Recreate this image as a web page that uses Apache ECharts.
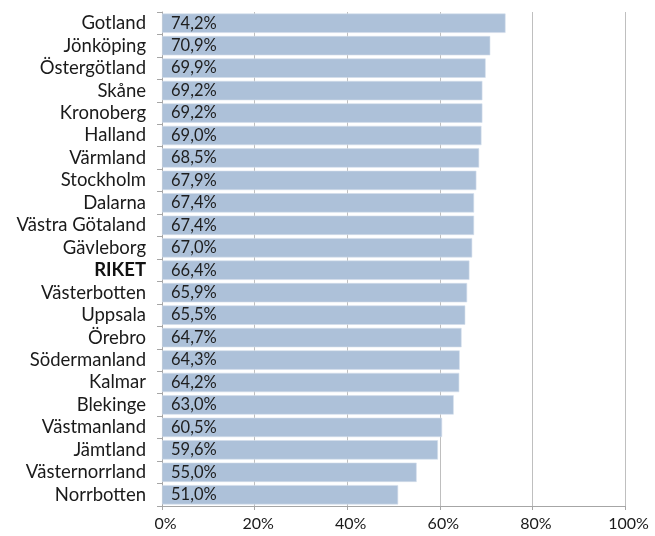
<!DOCTYPE html>
<html>
<head>
<meta charset="utf-8">
<script src="https://cdn.jsdelivr.net/npm/echarts@6/dist/echarts.min.js"></script>
<style>
  html, body { margin: 0; padding: 0; background: #ffffff; }
  #chart { width: 655px; height: 536px; }
</style>
</head>
<body>
<div id="chart"></div>
<script>
// Counties ordered top to bottom
const regions = [
  'Gotland', 'Jönköping', 'Östergötland', 'Skåne', 'Kronoberg', 'Halland',
  'Värmland', 'Stockholm', 'Dalarna', 'Västra Götaland', 'Gävleborg', 'RIKET',
  'Västerbotten', 'Uppsala', 'Örebro', 'Södermanland', 'Kalmar', 'Blekinge',
  'Västmanland', 'Jämtland', 'Västernorrland', 'Norrbotten'
];
// Share in percent
const shares = [
  74.2, 70.9, 69.9, 69.2, 69.2, 69.0,
  68.5, 67.9, 67.4, 67.4, 67.0, 66.4,
  65.9, 65.5, 64.7, 64.3, 64.2, 63.0,
  60.5, 59.6, 55.0, 51.0
];
const xTicks = [0, 20, 40, 60, 80, 100];

const fmt = v => v.toFixed(1).replace('.', ',') + '%';

const chart = echarts.init(document.getElementById('chart'), null, { renderer: 'canvas' });
chart.setOption({
  animation: false,
  grid: { left: 162, right: 30, top: 12, bottom: 30, containLabel: false },
  xAxis: {
    type: 'value',
    min: xTicks[0],
    max: xTicks[xTicks.length - 1],
    interval: 20,
    axisLine: { show: true, lineStyle: { color: '#a6a6a6', width: 1 } },
    axisTick: { show: true, length: 4, lineStyle: { color: '#a6a6a6' } },
    splitLine: { show: true, lineStyle: { color: '#bfbfbf', width: 1 } },
    axisLabel: {
      formatter: v => v + '%',
      color: '#1a1a1a',
      fontFamily: 'Lato, "Open Sans", sans-serif',
      fontSize: 16,
      margin: 10,
      padding: [0, 0, 0, 7]
    }
  },
  yAxis: {
    type: 'category',
    inverse: true,
    data: regions,
    axisLine: { show: true, lineStyle: { color: '#a6a6a6', width: 1 } },
    axisTick: { show: true, length: 5, lineStyle: { color: '#a6a6a6' } },
    axisLabel: {
      interval: 0,
      color: '#1a1a1a',
      fontFamily: 'Lato, "Open Sans", sans-serif',
      fontSize: 18.5,
      margin: 16,
      formatter: v => v === 'RIKET' ? '{b|' + v + '}' : v,
      rich: {
        b: {
          fontWeight: 'bold',
          fontSize: 18.5,
          color: '#111',
          fontFamily: 'Lato, "Open Sans", sans-serif'
        }
      }
    }
  },
  series: [{
    type: 'bar',
    data: shares,
    barCategoryGap: '14%',
    itemStyle: { color: '#adc1d9', borderColor: '#d3deeb', borderWidth: 0.6 },
    label: {
      show: true,
      position: 'insideLeft',
      distance: 9,
      formatter: p => fmt(p.value),
      color: '#1e1e1e',
      fontFamily: 'Lato, "Open Sans", sans-serif',
      fontSize: 16.5
    }
  }]
});
</script>
</body>
</html>
